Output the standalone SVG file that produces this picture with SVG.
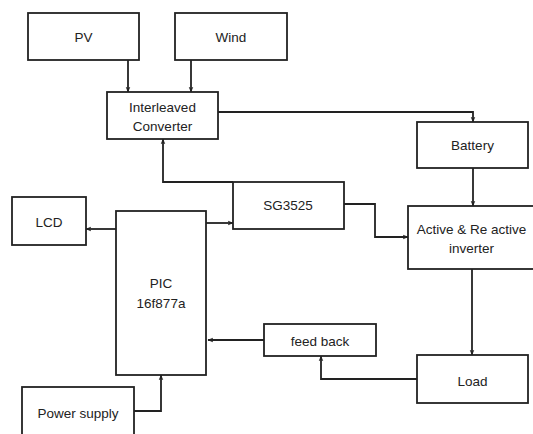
<svg xmlns="http://www.w3.org/2000/svg" width="533" height="434" viewBox="0 0 533 434">
<style>
.box{fill:#fff;stroke:#222;stroke-width:1.8}
.t{font-family:"Liberation Sans",Arial,sans-serif;font-size:13.5px;fill:#222;text-anchor:middle;dominant-baseline:central}
.c{fill:none;stroke:#222;stroke-width:1.8}
</style>
<defs>
<marker id="ah" viewBox="0 0 10 10" refX="9" refY="5" markerWidth="6" markerHeight="6" orient="auto" markerUnits="userSpaceOnUse">
<path d="M0,1 L10,5 L0,9 L3,5 Z" fill="#222"/>
</marker>
</defs>
<rect width="533" height="434" fill="#fff"/>
<g id="connectors">
<path class="c" d="M128,60 V92" marker-end="url(#ah)"/>
<path class="c" d="M191,60 V92" marker-end="url(#ah)"/>
<path class="c" d="M218,112 H473 V122" marker-end="url(#ah)"/>
<path class="c" d="M473,168 V206" marker-end="url(#ah)"/>
<path class="c" d="M233,182 H163 V139" marker-end="url(#ah)"/>
<path class="c" d="M344,204 H375 V237 H408" marker-end="url(#ah)"/>
<path class="c" d="M472,269 V355" marker-end="url(#ah)"/>
<path class="c" d="M417,379 H321 V356" marker-end="url(#ah)"/>
<path class="c" d="M264,340 H208" marker-end="url(#ah)"/>
<path class="c" d="M116,229 H86" marker-end="url(#ah)"/>
<path class="c" d="M206,223 H233" marker-end="url(#ah)"/>
<path class="c" d="M134,411 H161 V375" marker-end="url(#ah)"/>
</g>
<g id="pv"><rect class="box" x="28" y="13" width="111" height="47"/><text class="t" x="83.5" y="37">PV</text></g>
<g id="wind"><rect class="box" x="175" y="13" width="112" height="47"/><text class="t" x="231" y="37">Wind</text></g>
<g id="converter"><rect class="box" x="107" y="92" width="111" height="47"/><text class="t" x="162.5" y="107">Interleaved</text><text class="t" x="162.5" y="126">Converter</text></g>
<g id="battery"><rect class="box" x="417" y="122" width="111" height="46"/><text class="t" x="472.5" y="145">Battery</text></g>
<g id="sg3525"><rect class="box" x="233" y="182" width="111" height="47"/><text class="t" x="288" y="205">SG3525</text></g>
<g id="inverter"><rect class="box" x="408" y="206" width="130" height="63"/><text class="t" x="471.5" y="229">Active &amp; Re active</text><text class="t" x="471.5" y="248">inverter</text></g>
<g id="lcd"><rect class="box" x="12" y="197" width="74" height="48"/><text class="t" x="49" y="222">LCD</text></g>
<g id="pic"><rect class="box" x="116" y="211" width="90" height="164"/><text class="t" x="161" y="283">PIC</text><text class="t" x="161" y="303">16f877a</text></g>
<g id="feedback"><rect class="box" x="264" y="324" width="112" height="32"/><text class="t" x="320" y="341">feed back</text></g>
<g id="load"><rect class="box" x="417" y="355" width="111" height="48"/><text class="t" x="472.5" y="381">Load</text></g>
<g id="power"><rect class="box" x="22" y="387" width="112" height="60"/><text class="t" x="78" y="413">Power supply</text></g>
</svg>
